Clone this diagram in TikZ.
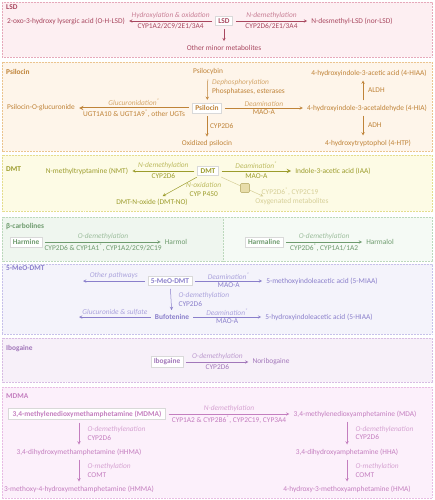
\documentclass[tikz,border=0pt]{standalone}
\usepackage{fontspec}
\setmainfont{Carlito}
\usepackage{xcolor}
\usetikzlibrary{arrows}

\definecolor{lsdfill}{HTML}{FDEFF2}\definecolor{lsdline}{HTML}{E6A9BA}
\definecolor{lsdtext}{HTML}{A8475F}\definecolor{lsdlight}{HTML}{C98096}
\definecolor{psifill}{HTML}{FEF5EA}\definecolor{psiline}{HTML}{EBC48F}
\definecolor{psitext}{HTML}{BF8338}\definecolor{psilight}{HTML}{D4A66A}
\definecolor{dmtfill}{HTML}{FDFBE5}\definecolor{dmtline}{HTML}{E4DD8E}
\definecolor{dmttext}{HTML}{9C9C2C}\definecolor{dmtlight}{HTML}{BDBB60}
\definecolor{dmtfade}{HTML}{D6CF98}\definecolor{dmtbox}{HTML}{E8DDAA}
\definecolor{dmtmark}{HTML}{C4B97C}
\definecolor{betafill}{HTML}{EFF6EF}\definecolor{betaline}{HTML}{BCD8BC}
\definecolor{betalite}{HTML}{F5FAF5}
\definecolor{betatext}{HTML}{6E9B6E}\definecolor{betalight}{HTML}{9DBE9D}
\definecolor{meofill}{HTML}{F4F3FB}\definecolor{meoline}{HTML}{C7C1EA}
\definecolor{meotext}{HTML}{8A7FCB}\definecolor{meolight}{HTML}{ABA3DC}
\definecolor{ibofill}{HTML}{F7F0F9}\definecolor{iboline}{HTML}{D7BCE3}
\definecolor{ibotext}{HTML}{A277BA}\definecolor{ibolight}{HTML}{BD9CCF}
\definecolor{mdmafill}{HTML}{FCF0FB}\definecolor{mdmaline}{HTML}{E8BCE4}
\definecolor{mdmatext}{HTML}{C47EBF}\definecolor{mdmalight}{HTML}{D6A3D2}

\newcommand{\fs}{\fontsize{7.4}{8.5}\selectfont}

\begin{document}
\begin{tikzpicture}[x=1pt,y=-1pt,font=\fs,
    sec/.style={fill=#1fill, draw=#1line, dash pattern=on 0.6pt off 0.9pt, line width=0.5pt},
    ttl/.style={anchor=west, inner sep=0pt, font=\fs\bfseries},
    cmpd/.style={draw=black!15, fill=white, font=\fs\bfseries, inner xsep=3pt, inner ysep=2.2pt},
    cmp/.style={inner sep=1pt},
    arr/.style={->, >=stealth, line width=0.5pt, shorten >=3pt, shorten <=3pt},
    lab/.style={font=\fs\itshape, inner sep=1.6pt, text=#1},
    enz/.style={inner sep=1.8pt}]
    \useasboundingbox (0,0) rectangle (434,500);

    % LSD
    \draw[sec=lsd] (2,2) rectangle (432,57);
    \begin{scope}[color=lsdtext]
        \node[ttl] (lsdttl) at (6,7) {LSD};
        \node[cmpd] (lsd) at (224,21) {LSD};
        \node[cmp] (ohlsd) at (66,21) {2-oxo-3-hydroxy lysergic acid (O-H-LSD)};
        \node[cmp] (norlsd) at (352,21) {N-desmethyl-LSD (nor-LSD)};
        \node[cmp] (lsdmin) at (224,48) {Other minor metabolites};
        \draw[arr] (lsd) -- node[above,lab=lsdlight]{Hydroxylation \& oxidation} node[below,enz]{CYP1A2/2C9/2E1/3A4} (ohlsd);
        \draw[arr] (lsd) -- node[above,lab=lsdlight]{N-demethylation} node[below,enz]{CYP2D6/2E1/3A4} (norlsd);
        \draw[arr] (lsd) -- (lsdmin);
    \end{scope}

    % Psilocin
    \draw[sec=psi] (2,62) rectangle (432,151);
    \begin{scope}[color=psitext]
        \node[ttl] (psittl) at (6,72) {Psilocin};
        \node[cmp] (psb) at (208,72) {Psilocybin};
        \node[cmpd] (psi) at (207,108) {Psilocin};
        \node[cmp] (psiglu) at (41,108) {Psilocin-O-glucuronide};
        \node[cmp] (hia) at (367,108) {4-hydroxyindole-3-acetaldehyde (4-HIA)};
        \node[cmp] (hiaa) at (369,73) {4-hydroxyindole-3-acetic acid (4-HIAA)};
        \node[cmp] (htp) at (368,143) {4-hydroxytryptophol (4-HTP)};
        \node[cmp] (oxpsi) at (207,144) {Oxidized psilocin};
        \draw[arr] (psb) -- node[pos=0.4,right,align=left,xshift=1pt]{\textcolor{psilight}{\itshape Dephosphorylation}\\Phosphatases, esterases} (psi);
        \draw[arr,line width=1pt] (psi) -- node[above,lab=psilight]{Glucuronidation\textsuperscript{*}} node[below,enz]{UGT1A10 \& UGT1A9\textsuperscript{*}, other UGTs} (psiglu);
        \draw[arr] (psi) -- node[above,lab=psilight]{Deamination} node[below,enz]{MAO-A} (hia);
        \draw[arr] ([xshift=-4pt]hia.north) -- ([xshift=-4pt]hia.north |- hiaa.south) node[midway,right,enz,xshift=3pt]{ALDH};
        \draw[arr] ([xshift=-4pt]hia.south) -- ([xshift=-4pt]hia.south |- htp.north) node[midway,right,enz,xshift=3pt]{ADH};
        \draw[arr] (psi) -- node[right,enz,xshift=1pt]{CYP2D6} (oxpsi);
    \end{scope}

    % DMT
    \draw[sec=dmt] (2,155) rectangle (432,211);
    \begin{scope}[color=dmttext]
        \node[ttl] (dmtttl) at (6,169) {DMT};
        \node[cmpd] (dmt) at (208,171) {DMT};
        \node[cmp] (nmt) at (87,171) {N-methyltryptamine (NMT)};
        \node[cmp] (iaa) at (333,171) {Indole-3-acetic acid (IAA)};
        \node[cmp] (dmtno) at (152,202) {DMT-N-oxide (DMT-NO)};
        \node[cmp,text=dmtfade] (oxmet) at (292,202) {Oxygenated metabolites};
        \node[cmp,text=dmtfade] (dmtcyp) at (290,192) {CYP2D6\textsuperscript{*}, CYP2C19};
        \draw[arr] (dmt) -- node[above,lab=dmtlight]{N-demethylation} node[below,enz]{CYP2D6} (nmt);
        \draw[arr,line width=1pt] (dmt) -- node[above,lab=dmtlight]{Deamination\textsuperscript{*}} node[below,enz]{MAO-A} (iaa);
        \draw[arr] (dmt) -- node[anchor=west,align=center,xshift=3pt,yshift=-3pt]{\textcolor{dmtlight}{\itshape N-oxidation}\\CYP P450} (dmtno);
        \draw[arr,draw=dmtfade] (dmt) -- ([xshift=-26pt]oxmet.north);
        \node[draw=dmtmark,fill=dmtbox,rounded corners=1pt,minimum size=9pt,inner sep=0pt,line width=0.6pt] (dmtsq) at (245,188) {};
    \end{scope}

    % beta-carbolines
    \fill[betafill] (2,217) rectangle (223,261);
    \fill[betalite] (223,217) rectangle (432,261);
    \draw[sec=beta,fill=none] (2,217) rectangle (432,261);
    \draw[betaline,dash pattern=on 0.6pt off 0.9pt,line width=0.5pt] (223,217) -- (223,261);
    \begin{scope}[color=betatext]
        \node[ttl] (betattl) at (6,226) {β-carbolines};
        \node[cmpd] (hmn) at (26,242) {Harmine};
        \node[cmp] (hml) at (176,242) {Harmol};
        \node[cmpd] (hmln) at (264,242) {Harmaline};
        \node[cmp] (hmlol) at (380,242) {Harmalol};
        \draw[arr] (hmn) -- node[above,lab=betalight]{O-demethylation} node[below,enz]{CYP2D6 \& CYP1A1\textsuperscript{*}, CYP1A2/2C9/2C19} (hml);
        \draw[arr] (hmln) -- node[above,lab=betalight]{O-demethylation} node[below,enz]{CYP2D6\textsuperscript{*}, CYP1A1/1A2} (hmlol);
    \end{scope}

    % 5-MeO-DMT
    \draw[sec=meo] (2,264) rectangle (432,334);
    \begin{scope}[color=meotext]
        \node[ttl] (meottl) at (6,268) {5-MeO-DMT};
        \node[cmpd] (meo) at (170,281) {5-MeO-DMT};
        \coordinate (meoend) at (80,281);
        \node[cmp] (miaa) at (322,281) {5-methoxyindoleacetic acid (5-MIAA)};
        \node[cmp,font=\fs\bfseries] (bufo) at (172,317) {Bufotenine};
        \coordinate (bufoend) at (76,317);
        \node[cmp] (hiaa5) at (319,317) {5-hydroxyindoleacetic acid (5-HIAA)};
        \draw[arr] (meo) -- node[above,lab=meolight]{Other pathways} (meoend);
        \draw[arr] (meo) -- node[above,lab=meolight]{Deamination\textsuperscript{*}} node[below,enz]{MAO-A} (miaa);
        \draw[arr] (meo) -- node[right,align=left,xshift=4pt]{\textcolor{meolight}{\itshape O-demethylation}\\CYP2D6} (bufo);
        \draw[arr] (bufo) -- node[above,lab=meolight]{Glucuronide \& sulfate} (bufoend);
        \draw[arr] (bufo) -- node[above,lab=meolight]{Deamination\textsuperscript{*}} node[below,enz]{MAO-A} (hiaa5);
    \end{scope}

    % Ibogaine
    \draw[sec=ibo] (2,338) rectangle (432,382);
    \begin{scope}[color=ibotext]
        \node[ttl] (ibottl) at (6,349) {Ibogaine};
        \node[cmpd] (ibo) at (167,362) {Ibogaine};
        \node[cmp] (nori) at (271,362) {Noribogaine};
        \draw[arr] (ibo) -- node[above,lab=ibolight]{O-demethylation} node[below,enz]{CYP2D6} (nori);
    \end{scope}

    % MDMA
    \draw[sec=mdma] (2,387) rectangle (432,498);
    \begin{scope}[color=mdmatext]
        \node[ttl] (mdmattl) at (6,396) {MDMA};
        \node[cmpd,inner xsep=4pt] (mdma) at (87,414) {3,4-methylenedioxymethamphetamine (MDMA)};
        \node[cmp] (mda) at (355,414) {3,4-methylenedioxyamphetamine (MDA)};
        \node[cmp] (hhma) at (79,452) {3,4-dihydroxymethamphetamine (HHMA)};
        \node[cmp] (hmma) at (79,489) {3-methoxy-4-hydroxymethamphetamine (HMMA)};
        \node[cmp] (hha) at (347,452) {3,4-dihydroxyamphetamine (HHA)};
        \node[cmp] (hma) at (347,489) {4-hydroxy-3-methoxyamphetamine (HMA)};
        \draw[arr] (mdma) -- node[above,lab=mdmalight]{N-demethylation} node[below,enz]{CYP1A2 \& CYP2B6\textsuperscript{*}, CYP2C19, CYP3A4} (mda);
        \draw[arr] (mdma.south -| hhma.north) -- node[right,align=left,xshift=5pt]{\textcolor{mdmalight}{\itshape O-demethylenation}\\CYP2D6} (hhma);
        \draw[arr] (hhma) -- node[right,align=left,xshift=5pt]{\textcolor{mdmalight}{\itshape O-methylation}\\COMT} (hmma);
        \draw[arr] (mda.south -| hha.north) -- node[right,align=left,xshift=5pt]{\textcolor{mdmalight}{\itshape O-demethylenation}\\CYP2D6} (hha);
        \draw[arr] (hha) -- node[right,align=left,xshift=5pt]{\textcolor{mdmalight}{\itshape O-methylation}\\COMT} (hma);
    \end{scope}
\end{tikzpicture}
\end{document}
